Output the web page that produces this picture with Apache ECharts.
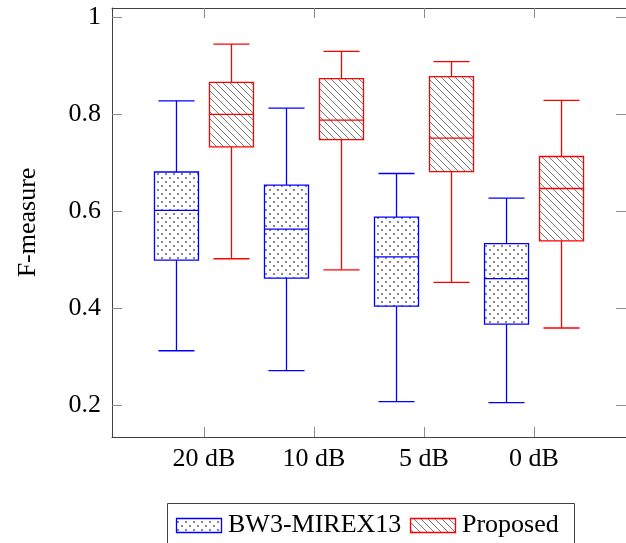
<!DOCTYPE html>
<html>
<head>
<meta charset="utf-8">
<script src="https://cdn.jsdelivr.net/npm/echarts@6/dist/echarts.min.js"></script>
<style>html,body{margin:0;padding:0;background:#fff}#c{width:626px;height:543px}</style>
</head>
<body>
<div id="c"></div>
<script>
// ---- data ----
const categories = ['20 dB', '10 dB', '5 dB', '0 dB'];
const seriesNames = ['BW3-MIREX13', 'Proposed'];
// [min, Q1, median, Q3, max]
const bw3 = [
  [0.312, 0.499, 0.602, 0.681, 0.828],
  [0.271, 0.462, 0.563, 0.654, 0.813],
  [0.207, 0.404, 0.506, 0.588, 0.678],
  [0.205, 0.367, 0.461, 0.533, 0.627]
];
const proposed = [
  [0.502, 0.733, 0.800, 0.866, 0.945],
  [0.479, 0.748, 0.788, 0.874, 0.930],
  [0.453, 0.682, 0.751, 0.878, 0.909],
  [0.359, 0.539, 0.647, 0.713, 0.829]
];
const yTicks = [0.2, 0.4, 0.6, 0.8, 1];
const yTickLabels = ['0.2', '0.4', '0.6', '0.8', '1'];

// ---- patterns ----
function dotPattern() {
  const c = document.createElement('canvas');
  c.width = 8; c.height = 8;
  const g = c.getContext('2d');
  g.fillStyle = '#fff'; g.fillRect(0, 0, 8, 8);
  g.fillStyle = '#888';
  g.fillRect(1, 1, 2, 2);
  g.fillRect(5, 5, 2, 2);
  return c;
}
function hatchPattern() {
  const s = 7;
  const c = document.createElement('canvas');
  c.width = s; c.height = s;
  const g = c.getContext('2d');
  g.fillStyle = '#fff'; g.fillRect(0, 0, s, s);
  g.strokeStyle = '#6a6a6a';
  g.lineWidth = 0.9;
  for (const k of [-s, 0, s]) {
    g.beginPath(); g.moveTo(k, 0); g.lineTo(k + s, s); g.stroke();
  }
  return c;
}
const dotFill = { image: dotPattern(), repeat: 'repeat' };
const hatchFill = { image: hatchPattern(), repeat: 'repeat' };

const FONT = 'Liberation Serif';
const BOX_HALF = 0.2, CAP_HALF = 0.164, OFFSET = 0.25;

function makeRender(offset, color, fill) {
  return function (params, api) {
    const cx = api.value(0) + offset;
    const mn = api.value(1), q1 = api.value(2), md = api.value(3), q3 = api.value(4), mx = api.value(5);
    const c = (x, y) => api.coord([x, y]);
    const lw = 1.3;
    const ls = { stroke: color, lineWidth: lw, fill: null };
    const tl = c(cx - BOX_HALF, q3), br = c(cx + BOX_HALF, q1);
    const top = c(cx, mx), q3p = c(cx, q3), q1p = c(cx, q1), bot = c(cx, mn);
    const capL1 = c(cx - CAP_HALF, mx), capR1 = c(cx + CAP_HALF, mx);
    const capL2 = c(cx - CAP_HALF, mn), capR2 = c(cx + CAP_HALF, mn);
    const mL = c(cx - BOX_HALF, md), mR = c(cx + BOX_HALF, md);
    return {
      type: 'group',
      children: [
        { type: 'line', shape: { x1: top[0], y1: top[1], x2: q3p[0], y2: q3p[1] }, style: ls },
        { type: 'line', shape: { x1: q1p[0], y1: q1p[1], x2: bot[0], y2: bot[1] }, style: ls },
        { type: 'line', shape: { x1: capL1[0], y1: capL1[1], x2: capR1[0], y2: capR1[1] }, style: ls },
        { type: 'line', shape: { x1: capL2[0], y1: capL2[1], x2: capR2[0], y2: capR2[1] }, style: ls },
        { type: 'rect', shape: { x: tl[0], y: tl[1], width: br[0] - tl[0], height: br[1] - tl[1] },
          style: { fill: fill, stroke: color, lineWidth: lw } },
        { type: 'line', shape: { x1: mL[0], y1: mL[1], x2: mR[0], y2: mR[1] }, style: ls }
      ]
    };
  };
}

const xTicks = categories.map((_, i) => i + 1);
const axisLineStyle = { color: '#404040', width: 1 };
const tickStyle = { color: '#8c8c8c', width: 1 };

const option = {
  animation: false,
  backgroundColor: '#fff',
  grid: { left: 112, right: -1, top: 8, bottom: 106, containLabel: false },
  xAxis: [
    {
      type: 'value', min: 0.164, max: 4.836, position: 'bottom',
      axisLine: { show: true, lineStyle: axisLineStyle },
      axisTick: { show: true, inside: true, length: 10, customValues: xTicks, lineStyle: tickStyle },
      axisLabel: { customValues: xTicks, formatter: v => categories[Math.round(v) - 1], fontFamily: FONT, fontSize: 26, color: '#000', margin: 9 },
      splitLine: { show: false }
    },
    {
      type: 'value', min: 0.164, max: 4.836, position: 'top',
      axisLine: { show: true, lineStyle: axisLineStyle },
      axisTick: { show: true, inside: true, length: 10, customValues: xTicks, lineStyle: tickStyle },
      axisLabel: { show: false },
      splitLine: { show: false }
    }
  ],
  yAxis: [
    {
      type: 'value', min: 0.134, max: 1.0196, position: 'left',
      name: 'F-measure', nameLocation: 'middle', nameGap: 71,
      nameTextStyle: { fontFamily: FONT, fontSize: 26, color: '#000' },
      axisLine: { show: true, lineStyle: axisLineStyle },
      axisTick: { show: true, inside: true, length: 10, customValues: yTicks, lineStyle: tickStyle },
      axisLabel: { customValues: yTicks, formatter: v => yTickLabels[yTicks.findIndex(t => Math.abs(t - v) < 1e-6)], fontFamily: FONT, fontSize: 26, color: '#000', margin: 11 },
      splitLine: { show: false }
    },
    {
      type: 'value', min: 0.134, max: 1.0196, position: 'right',
      axisLine: { show: true, lineStyle: axisLineStyle },
      axisTick: { show: true, inside: true, length: 10, customValues: yTicks, lineStyle: tickStyle },
      axisLabel: { show: false },
      splitLine: { show: false }
    }
  ],
  series: [
    {
      name: seriesNames[0], type: 'custom', xAxisIndex: 0, yAxisIndex: 0,
      renderItem: makeRender(-OFFSET, '#0000ff', dotFill),
      encode: { x: 0, y: [1, 2, 3, 4, 5] },
      data: bw3.map((d, i) => [i + 1].concat(d))
    },
    {
      name: seriesNames[1], type: 'custom', xAxisIndex: 0, yAxisIndex: 0,
      renderItem: makeRender(OFFSET, '#ff0000', hatchFill),
      encode: { x: 0, y: [1, 2, 3, 4, 5] },
      data: proposed.map((d, i) => [i + 1].concat(d))
    }
  ],
  graphic: [
    { type: 'rect', shape: { x: 167.5, y: 503.5, width: 407, height: 60 }, style: { fill: '#fff', stroke: '#404040', lineWidth: 1 } },
    { type: 'rect', shape: { x: 176.5, y: 518.5, width: 45, height: 14 }, style: { fill: dotFill, stroke: '#0000ff', lineWidth: 1.3 } },
    { type: 'text', x: 228, y: 525, style: { text: seriesNames[0], font: '26px "' + FONT + '"', fill: '#000', align: 'left', verticalAlign: 'middle' } },
    { type: 'rect', shape: { x: 410.5, y: 518.5, width: 45, height: 14 }, style: { fill: hatchFill, stroke: '#ff0000', lineWidth: 1.3 } },
    { type: 'text', x: 462, y: 525, style: { text: seriesNames[1], font: '26px "' + FONT + '"', fill: '#000', align: 'left', verticalAlign: 'middle' } }
  ]
};

const chart = echarts.init(document.getElementById('c'), null, { renderer: 'canvas' });
chart.setOption(option);
</script>
</body>
</html>
